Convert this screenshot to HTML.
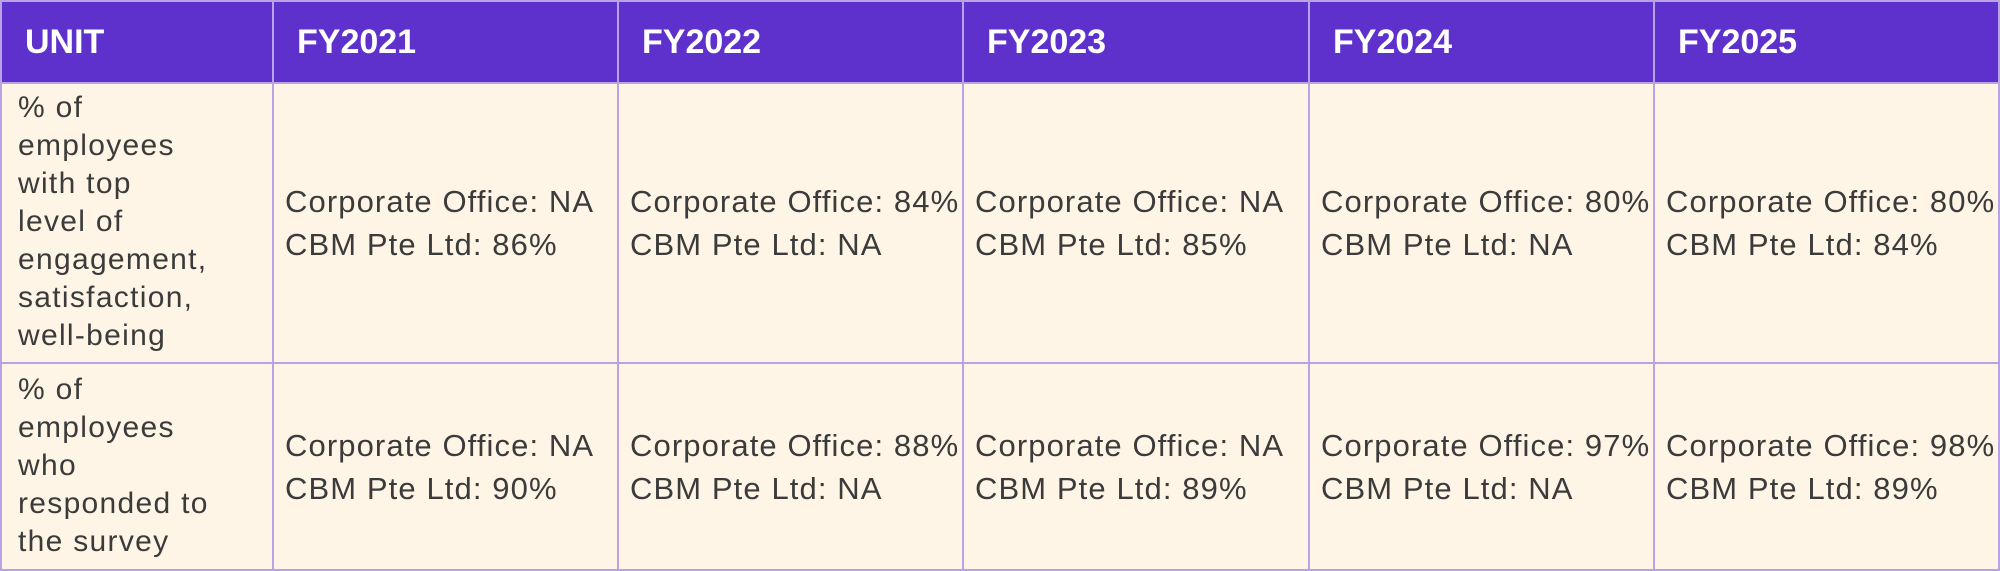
<!DOCTYPE html>
<html><head><style>
html,body{margin:0;padding:0;}
body{width:2000px;height:571px;background:#fff5e6;position:relative;overflow:hidden;font-family:"Liberation Sans",sans-serif;color:#3b3b3b;}
.hd{position:absolute;top:0;left:0;width:2000px;height:82px;background:#5f31cc;}
.h{position:absolute;top:0;height:82px;line-height:84px;color:#fff;font-weight:bold;font-size:34px;}
.v{position:absolute;top:0;width:2px;height:571px;background:#b9a3e6;}
.hz{position:absolute;left:0;width:2000px;height:2px;background:#b9a3e6;}
.lc{position:absolute;left:18px;width:254px;font-size:30px;line-height:38px;letter-spacing:1.3px;}
.c{position:absolute;font-size:31px;line-height:43px;white-space:nowrap;letter-spacing:1.1px;}
</style></head><body>
<div class="hd"></div>
<div class="h" style="left:25px">UNIT</div>
<div class="h" style="left:297px">FY2021</div>
<div class="h" style="left:642px">FY2022</div>
<div class="h" style="left:987px">FY2023</div>
<div class="h" style="left:1333px">FY2024</div>
<div class="h" style="left:1678px">FY2025</div>
<div class="v" style="left:0"></div>
<div class="v" style="left:272px"></div>
<div class="v" style="left:617px"></div>
<div class="v" style="left:962px"></div>
<div class="v" style="left:1308px"></div>
<div class="v" style="left:1653px"></div>
<div class="v" style="left:1998px"></div>
<div class="hz" style="top:0"></div>
<div class="hz" style="top:82px"></div>
<div class="hz" style="top:362px"></div>
<div class="hz" style="top:569px"></div>
<div class="lc" style="top:89px">% of<br>employees<br>with top<br>level of<br>engagement,<br>satisfaction,<br>well-being</div>
<div class="lc" style="top:371px">% of<br>employees<br>who<br>responded to<br>the survey</div>
<div class="c" style="left:285px;top:180px">Corporate Office: NA<br>CBM Pte Ltd: 86%</div>
<div class="c" style="left:630px;top:180px">Corporate Office: 84%<br>CBM Pte Ltd: NA</div>
<div class="c" style="left:975px;top:180px">Corporate Office: NA<br>CBM Pte Ltd: 85%</div>
<div class="c" style="left:1321px;top:180px">Corporate Office: 80%<br>CBM Pte Ltd: NA</div>
<div class="c" style="left:1666px;top:180px">Corporate Office: 80%<br>CBM Pte Ltd: 84%</div>
<div class="c" style="left:285px;top:424px">Corporate Office: NA<br>CBM Pte Ltd: 90%</div>
<div class="c" style="left:630px;top:424px">Corporate Office: 88%<br>CBM Pte Ltd: NA</div>
<div class="c" style="left:975px;top:424px">Corporate Office: NA<br>CBM Pte Ltd: 89%</div>
<div class="c" style="left:1321px;top:424px">Corporate Office: 97%<br>CBM Pte Ltd: NA</div>
<div class="c" style="left:1666px;top:424px">Corporate Office: 98%<br>CBM Pte Ltd: 89%</div>
</body></html>
